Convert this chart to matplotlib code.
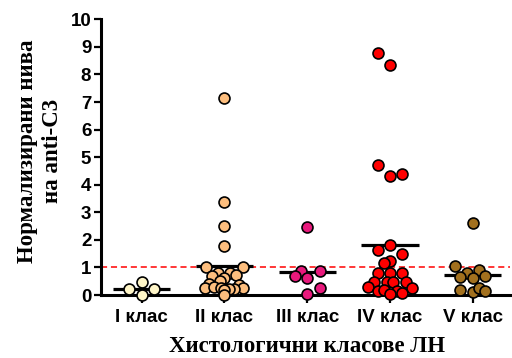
import numpy as np
import matplotlib
matplotlib.use("Agg")
import matplotlib.pyplot as plt

categories = ["I клас", "II клас", "III клас", "IV клас", "V клас"]

class_i = [0.21, 0.48, 0.21, 0.0]
class_ii = [7.15, 3.36, 2.51, 1.76, 1.00, 1.00, 0.80, 0.80, 0.70, 0.72, 0.60,
            0.50, 0.40, 0.36, 0.24, 0.24, 0.28, 0.22, 0.25, 0.20, 0.18, 0.0]
class_iii = [2.48, 0.88, 0.86, 0.70, 0.63, 0.24, 0.04]
class_iv = [8.79, 8.36, 4.71, 4.30, 4.38, 1.81, 1.63, 1.47, 1.24, 1.15,
            0.81, 0.81, 0.81, 0.48, 0.48, 0.48, 0.48, 0.30, 0.27, 0.16,
            0.18, 0.16, 0.07, 0.03]
class_v = [2.62, 1.06, 0.81, 0.91, 0.64, 0.60, 0.70, 0.18, 0.10, 0.26, 0.16]

# horizontal offsets within each column (in category units)
offsets_i = [-0.15, 0.0, 0.15, 0.0]
offsets_ii = [0.0, 0.0, 0.0, 0.0, -0.22, 0.22, -0.08, 0.07, -0.15, 0.14, 0.0,
              -0.05, -0.19, 0.18, -0.23, 0.22, -0.12, 0.12, -0.04, 0.05, 0.0, 0.0]
offsets_iii = [0.0, -0.08, 0.15, -0.15, 0.0, 0.15, 0.0]
offsets_iv = [-0.15, 0.0, -0.15, 0.0, 0.15, 0.0, -0.15, 0.15, 0.0, -0.07,
              -0.15, 0.0, 0.15, -0.19, -0.04, 0.04, 0.19, -0.26, 0.27, -0.15,
              -0.07, 0.08, 0.15, 0.0]
offsets_v = [0.0, -0.22, -0.07, 0.08, -0.15, 0.0, 0.15, -0.15, 0.0, 0.08, 0.15]

groups = [class_i, class_ii, class_iii, class_iv, class_v]
offsets = [offsets_i, offsets_ii, offsets_iii, offsets_iv, offsets_v]
colors = ["#FFF6C8", "#FDBE7E", "#E8197C", "#FF0000", "#A2701E"]
reference_level = 1.0

fig = plt.figure(figsize=(5.12, 3.58), dpi=100)
ax = fig.add_axes([101 / 512, 1 - 295 / 358, 409 / 512, (295 - 19.3) / 358])

for i, (vals, offs, col) in enumerate(zip(groups, offsets, colors)):
    xs = i + np.array(offs)
    ax.scatter(xs, vals, s=62, facecolor=col, edgecolor="black",
               linewidth=1.2, zorder=4, clip_on=False)
    m = np.mean(vals)
    ax.plot([i - 0.345, i + 0.345], [m, m], color="black", lw=2.3,
            zorder=3, solid_capstyle="butt")

ax.axhline(reference_level, color="red", lw=1.1, ls=(0, (4, 2.5)), zorder=2)

ax.set_xlim(-0.49, 4.45)
ax.set_ylim(0, 10)
ax.set_yticks(range(0, 11))
ax.set_xticks(range(len(categories)))
ax.set_xticklabels(categories)

for side in ["top", "right"]:
    ax.spines[side].set_visible(False)
for side in ["left", "bottom"]:
    ax.spines[side].set_linewidth(2.2)

ax.tick_params(axis="y", length=5, width=1.6, pad=2,
               labelsize=13.5)
ax.tick_params(axis="x", length=6, width=1.6, pad=4, labelsize=13.5)
for lab in ax.get_xticklabels() + ax.get_yticklabels():
    lab.set_fontfamily("Liberation Sans")
    lab.set_fontweight("bold")

fig.text(40 / 512, 1 - 151 / 358, "Нормализирани нива\nна anti-C3",
         rotation=90, ha="center", va="center", fontsize=16.5,
         fontfamily="Liberation Serif", fontweight="bold", linespacing=1.25,
         multialignment="center")
fig.text(307 / 512, 1 - 347 / 358, "Хистологични класове ЛН",
         ha="center", va="center", fontsize=16.5,
         fontfamily="Liberation Serif", fontweight="bold")

fig.savefig("out.png", dpi=100)
